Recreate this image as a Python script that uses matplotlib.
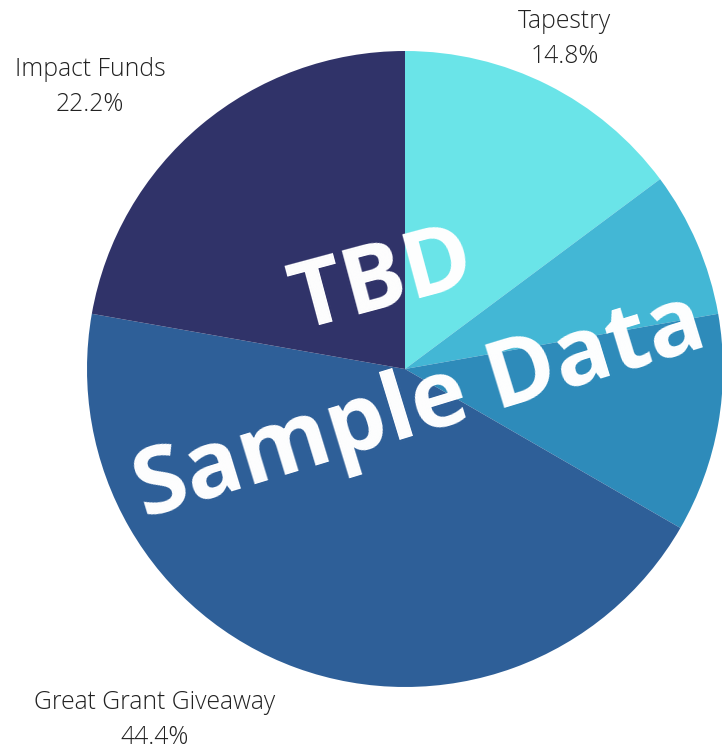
import matplotlib.pyplot as plt

# data (shares out of 27)
categories = ['Tapestry', '', '', 'Great Grant Giveaway', 'Impact Funds']
values = [4, 2, 3, 12, 6]
colors = ['#6AE4E8', '#43B7D5', '#2E8BBA', '#2E5F98', '#303369']

plt.rcParams['font.family'] = ['Open Sans', 'DejaVu Sans']

W, H = 722, 751
fig = plt.figure(figsize=(W / 100, H / 100), dpi=100)
ax = fig.add_axes([0, 0, 1, 1])

cx, cy, r = 405, H - 369, 318
ax.pie(values, colors=colors, startangle=90, counterclock=False,
       center=(cx, cy), radius=r, frame=True,
       wedgeprops=dict(linewidth=0))
ax.set_xlim(0, W)
ax.set_ylim(0, H)
ax.set_aspect('equal')
ax.axis('off')

# outside labels
total = sum(values)
label_pos = {'Tapestry': (565, H - 39), 'Impact Funds': (90, H - 87),
             'Great Grant Giveaway': (155, H - 720)}
for name, v in zip(categories, values):
    if not name:
        continue
    x, y = label_pos[name]
    ax.text(x, y, f'{name}\n{v / total * 100:.1f}%', ha='center', va='center',
            fontsize=17.8, fontweight='light', color='#222222', linespacing=1.55)

# watermark
ax.text(382, H - 282, 'TBD', ha='center', va='center', fontsize=67,
        fontweight='bold', color='white', rotation=15)
ax.text(420, H - 408, 'Sample Data', ha='center', va='center', fontsize=67.5,
        fontweight='bold', color='white', rotation=17)

plt.savefig('out.png', dpi=100)
